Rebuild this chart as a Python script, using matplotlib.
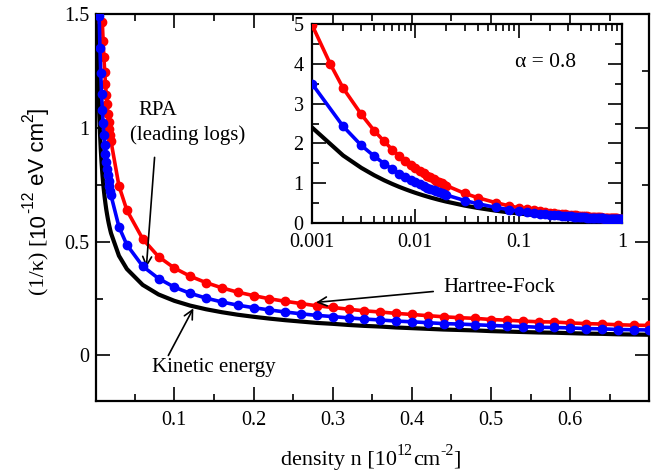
import matplotlib
matplotlib.use('Agg')
import matplotlib.pyplot as plt
from matplotlib.ticker import MultipleLocator, LogLocator, FuncFormatter, NullFormatter
from matplotlib.transforms import IdentityTransform

plt.rcParams['font.family'] = 'Liberation Serif'
plt.rcParams['font.size'] = 14.5

# density n [10^12 cm^-2]
density = [0.001, 0.002, 0.003, 0.004, 0.005, 0.006, 0.007, 0.008, 0.009, 0.010,
           0.011, 0.012, 0.013, 0.014, 0.015, 0.016, 0.017, 0.018, 0.019, 0.020,
           0.03, 0.04, 0.06, 0.08, 0.10, 0.12, 0.14, 0.16, 0.18, 0.20,
           0.22, 0.24, 0.26, 0.28, 0.30, 0.32, 0.34, 0.36, 0.38, 0.40,
           0.42, 0.44, 0.46, 0.48, 0.50, 0.52, 0.54, 0.56, 0.58, 0.60,
           0.62, 0.64, 0.66, 0.68, 0.70, 0.72, 0.74, 0.76, 0.78, 0.80,
           0.82, 0.84, 0.86, 0.88, 0.90, 0.92, 0.94, 0.96, 0.98, 1.00]
# Hartree-Fock has one extra point at 0.0015
hf_density = [0.001, 0.0015] + density[1:]

kinetic = [2.400, 1.697, 1.386, 1.200, 1.073, 0.980, 0.907, 0.849, 0.800, 0.759,
           0.724, 0.693, 0.666, 0.641, 0.620, 0.600, 0.582, 0.566, 0.551, 0.537,
           0.438, 0.380, 0.310, 0.268, 0.240, 0.219, 0.203, 0.190, 0.179, 0.170,
           0.162, 0.155, 0.149, 0.143, 0.139, 0.134, 0.130, 0.127, 0.123, 0.120,
           0.117, 0.114, 0.112, 0.110, 0.107, 0.105, 0.103, 0.101, 0.100, 0.098,
           0.096, 0.095, 0.093, 0.092, 0.091, 0.089, 0.088, 0.087, 0.086, 0.085,
           0.084, 0.083, 0.082, 0.081, 0.080, 0.079, 0.078, 0.077, 0.077, 0.076]

hartree_fock = [4.98, 4.00, 3.39, 2.73, 2.32, 2.05, 1.84, 1.68, 1.562, 1.464, 1.381,
                1.310, 1.247, 1.192, 1.144, 1.104, 1.062, 1.027, 0.996, 0.967, 0.940,
                0.745, 0.638, 0.512, 0.434, 0.384, 0.348, 0.320, 0.297, 0.278, 0.263,
                0.249, 0.238, 0.228, 0.218, 0.211, 0.203, 0.196, 0.191, 0.185, 0.180,
                0.175, 0.170, 0.166, 0.163, 0.158, 0.155, 0.151, 0.148, 0.147, 0.143,
                0.140, 0.138, 0.135, 0.133, 0.132, 0.129, 0.127, 0.125, 0.124, 0.122,
                0.121, 0.119, 0.117, 0.116, 0.114, 0.113, 0.111, 0.109, 0.109, 0.108]

rpa = [3.50, 2.43, 1.95, 1.68, 1.49, 1.35, 1.24, 1.150, 1.080, 1.021,
       0.970, 0.925, 0.886, 0.851, 0.821, 0.792, 0.767, 0.744, 0.723, 0.703,
       0.565, 0.486, 0.392, 0.338, 0.300, 0.273, 0.252, 0.235, 0.221, 0.210,
       0.200, 0.191, 0.183, 0.176, 0.171, 0.165, 0.160, 0.156, 0.151, 0.148,
       0.144, 0.140, 0.138, 0.135, 0.132, 0.129, 0.127, 0.124, 0.123, 0.121,
       0.118, 0.117, 0.114, 0.113, 0.112, 0.109, 0.108, 0.107, 0.105, 0.104,
       0.103, 0.102, 0.100, 0.099, 0.098, 0.097, 0.096, 0.094, 0.094, 0.093]

fig = plt.figure(figsize=(6.57, 4.74), dpi=100)
ax = fig.add_axes([0.1461, 0.154, 0.8417, 0.8165])
ins = fig.add_axes([0.4749, 0.5295, 0.4718, 0.4198])

fmt = FuncFormatter(lambda v, p: f'{v:g}')


def draw_curves(a):
    a.plot(density, kinetic, color='black', lw=3.0, zorder=2)
    a.plot(hf_density, hartree_fock, color='#ff0000', lw=2.6, marker='o', ms=6, zorder=3)
    a.plot(density, rpa, color='#0000ff', lw=2.6, marker='o', ms=6, zorder=4)


def style_ticks(a, xpad, ypad):
    a.tick_params(which='both', direction='in', top=True, right=True, width=1.2)
    a.tick_params(which='major', length=10)
    a.tick_params(which='minor', length=5)
    a.tick_params(axis='x', pad=xpad)
    a.tick_params(axis='y', pad=ypad)
    for s in a.spines.values():
        s.set_linewidth(1.6)


# main plot
draw_curves(ax)
ax.set_xlim(0.001, 0.6995)
ax.set_ylim(-0.2, 1.5)
ax.xaxis.set_major_locator(MultipleLocator(0.1))
ax.xaxis.set_minor_locator(MultipleLocator(0.05))
ax.yaxis.set_major_locator(MultipleLocator(0.5))
ax.yaxis.set_minor_locator(MultipleLocator(0.25))
ax.xaxis.set_major_formatter(fmt)
ax.yaxis.set_major_formatter(fmt)
style_ticks(ax, 7, 5)

arrow = dict(arrowstyle='->', lw=1.2, color='black', shrinkA=0, shrinkB=0, mutation_scale=16)
ax.text(0.0545, 1.077, 'RPA', ha='left', va='center', fontsize=15)
ax.text(0.0444, 0.967, '(leading logs)', ha='left', va='center', fontsize=15)
ax.annotate('', xy=(0.0646, 0.387), xytext=(0.075, 0.870), arrowprops=arrow)
ax.text(0.4396, 0.299, 'Hartree-Fock', ha='left', va='center', fontsize=15)
ax.annotate('', xy=(0.279, 0.233), xytext=(0.427, 0.281), arrowprops=arrow)
ax.text(0.0722, -0.053, 'Kinetic energy', ha='left', va='center', fontsize=15)
ax.annotate('', xy=(0.124, 0.207), xytext=(0.0924, 0.0), arrowprops=arrow)

# inset
ins.set_facecolor('white')
draw_curves(ins)
ins.set_xscale('log')
ins.set_xlim(0.001, 1)
ins.set_ylim(0, 5)
ins.xaxis.set_major_locator(LogLocator(base=10, numticks=10))
ins.xaxis.set_minor_locator(LogLocator(base=10, subs=range(2, 10), numticks=10))
ins.xaxis.set_minor_formatter(NullFormatter())
ins.xaxis.set_major_formatter(fmt)
ins.yaxis.set_major_locator(MultipleLocator(1))
ins.yaxis.set_minor_locator(MultipleLocator(0.5))
ins.yaxis.set_major_formatter(fmt)
style_ticks(ins, 7, 6)
ins.text(0.752, 0.809, 'α = 0.8', transform=ins.transAxes, ha='center', va='center', fontsize=15.5)


# labels with mixed fonts and superscripts, placed piece by piece in pixels
def rich_label(x, y, pieces, rotation=0, size=16):
    r = fig.canvas.get_renderer()
    placed = []
    pos = 0
    for s, fam, scale, rise in pieces:
        if s == '':
            pos += scale * size * fig.dpi / 72
            continue
        t = fig.text(0, 0, s, family=fam, fontsize=size * scale, rotation=rotation,
                     rotation_mode='anchor', ha='left', va='baseline',
                     transform=IdentityTransform())
        bb = t.get_window_extent(r)
        placed.append((t, pos, rise * size * fig.dpi / 72))
        pos += bb.width if rotation == 0 else bb.height
    start = -pos / 2
    for t, off, rise in placed:
        if rotation == 0:
            t.set_position((x + start + off, y + rise))
        else:
            t.set_position((x - rise, y + start + off))


serif = 'Liberation Serif'
sans = 'Liberation Sans'
rich_label(371, 474 - 465, [
    ('density n [10', serif, 1.0, 0),
    ('12', serif, 0.72, 0.45),
    ('cm', serif, 1.0, 0),
    ('-2', serif, 0.72, 0.45),
    (']', serif, 1.0, 0),
])
rich_label(44, 474 - 201, [
    ('(1/κ) [', serif, 1.0, 0),
    ('10', sans, 1.0, 0),
    ('-12', sans, 0.7, 0.5),
    ('', None, 0.25, 0),
    ('eV cm', sans, 1.0, 0),
    ('2', sans, 0.7, 0.5),
    (']', sans, 1.0, 0),
], rotation=90)

fig.savefig('out.png', dpi=100)
